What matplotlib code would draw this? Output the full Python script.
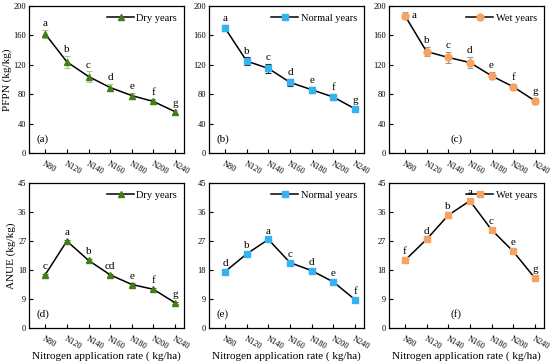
import numpy as np
import matplotlib
matplotlib.use("Agg")
import matplotlib.pyplot as plt

plt.rcParams['font.family'] = ['Liberation Serif', 'DejaVu Serif']

# Data
rates = ["N80", "N120", "N140", "N160", "N180", "N200", "N240"]

pfpn_dry = [162, 124, 104, 89, 78, 70, 56]
pfpn_dry_err = [5, 8, 7, 5, 4, 4, 3]
pfpn_normal = [170, 125, 115, 96, 86, 76, 60]
pfpn_normal_err = [4, 5, 6, 5, 4, 4, 3]
pfpn_wet = [187, 138, 130, 123, 105, 90, 71]
pfpn_wet_err = [5, 6, 7, 8, 5, 4, 4]

anue_dry = [16.5, 27.0, 21.0, 16.5, 13.5, 12.0, 7.8]
anue_normal = [17.5, 23.0, 27.5, 20.3, 17.8, 14.3, 8.8]
anue_wet = [21.0, 27.5, 35.0, 39.5, 30.5, 23.8, 15.5]
anue_err = [0.4, 0.4, 0.4, 0.4, 0.4, 0.4, 0.4]

letters_a = ["a", "b", "c", "d", "e", "f", "g"]
letters_d = ["c", "a", "b", "cd", "e", "f", "g"]
letters_e = ["d", "b", "a", "c", "d", "e", "f"]
letters_f = ["f", "d", "b", "a", "c", "e", "g"]

green = "#3f7f16"
blue = "#33b4ee"
orange = "#f5a262"

fig = plt.figure(figsize=(5.5, 3.64), dpi=100)
lefts = [0.053, 0.380, 0.707]
w = 0.282

panels = [
    (0.580, 0.4035, pfpn_dry, pfpn_dry_err, "^", green, "#a9c98a", "Dry years", letters_a, "(a)", 0.05),
    (0.580, 0.4035, pfpn_normal, pfpn_normal_err, "s", blue, "#222222", "Normal years", letters_a, "(b)", 0.05),
    (0.580, 0.4035, pfpn_wet, pfpn_wet_err, "o", orange, "#999999", "Wet years", letters_a, "(c)", 0.40),
    (0.099, 0.398, anue_dry, anue_err, "^", green, green, "Dry years", letters_d, "(d)", 0.05),
    (0.099, 0.398, anue_normal, anue_err, "s", blue, "#222222", "Normal years", letters_e, "(e)", 0.05),
    (0.099, 0.398, anue_wet, anue_err, "s", orange, orange, "Wet years", letters_f, "(f)", 0.40),
]

x = np.arange(len(rates))
for i, (bot, h, vals, errs, mk, col, ecol, lab, lets, tag, tx) in enumerate(panels):
    ax = fig.add_axes([lefts[i % 3], bot, w, h])
    ax.errorbar(x, vals, yerr=errs, fmt="none", ecolor=ecol, elinewidth=0.8, capsize=2, capthick=0.8, zorder=2)
    ax.plot(x, vals, color="black", lw=1.1, marker=mk, ms=5 if mk != "s" else 4.5,
            mfc=col, mec=col, label=lab, zorder=3)
    ax.set_xlim(-0.74, 6.42)
    if i < 3:
        ax.set_ylim(0, 200)
        ax.set_yticks([0, 40, 80, 120, 160, 200])
        off = 2.5
    else:
        ax.set_ylim(0, 45)
        ax.set_yticks([0, 9, 18, 27, 36, 45])
        off = 0.8
    for j, (v, e, t) in enumerate(zip(vals, errs, lets)):
        if i == 2 and j == 0:
            ax.text(j + 0.3, v, t, fontsize=8, ha="left", va="center")
        else:
            ax.text(j, v + e + off, t, fontsize=8, ha="center", va="bottom")
    ax.set_xticks(x)
    ax.set_xticklabels(rates, rotation=-30, ha="left", rotation_mode="anchor", fontsize=6)
    ax.tick_params(direction="in", length=3, width=0.8, labelsize=6, pad=2)
    ax.tick_params(axis="x", pad=5)
    ax.text(tx, 0.06, tag, transform=ax.transAxes, fontsize=8, ha="left", va="bottom")
    ax.legend(loc="upper right", frameon=False, fontsize=7.5, handlelength=2.6,
              handletextpad=0.2, borderaxespad=0.3)
    for s in ax.spines.values():
        s.set_linewidth(0.9)
    if i == 0:
        ax.set_ylabel("PFPN (kg/kg)", fontsize=8, labelpad=1)
    if i == 3:
        ax.set_ylabel("ANUE (kg/kg)", fontsize=8, labelpad=1)
    if i >= 3:
        ax.set_xlabel("Nitrogen application rate ( kg/ha)", fontsize=8, labelpad=0)

fig.savefig("out.png", dpi=100)
